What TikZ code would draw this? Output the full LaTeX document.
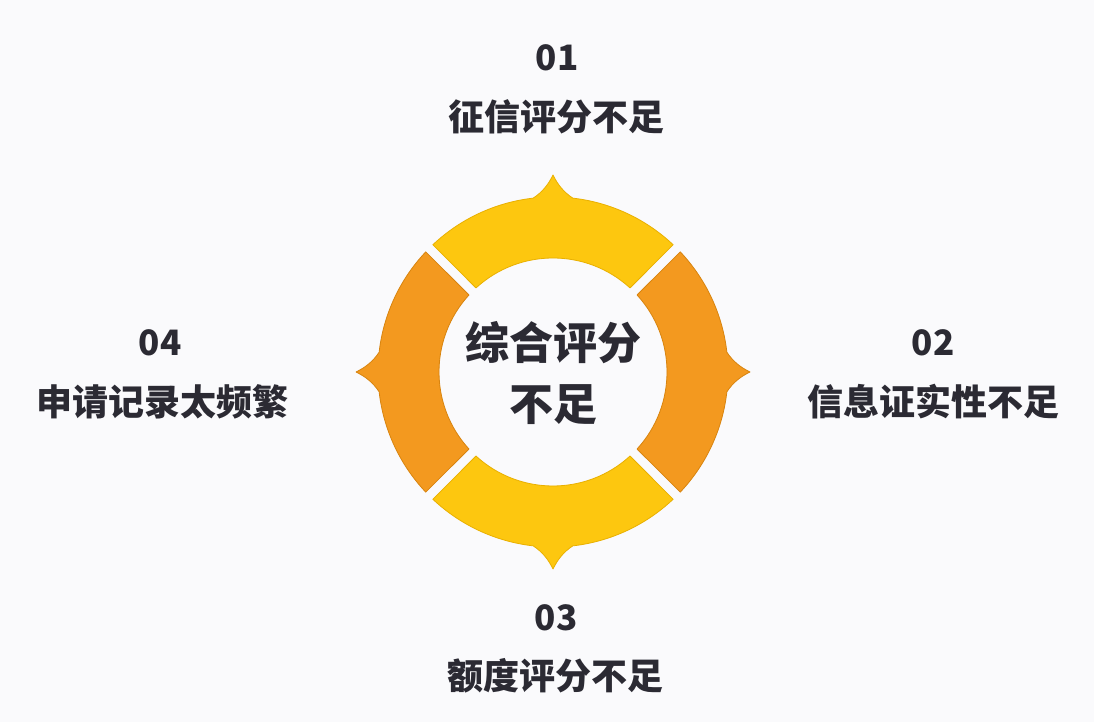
\documentclass[tikz,border=0pt]{standalone}
\usepackage{fontspec}
\newfontfamily\cjk{Noto Sans CJK SC}
\definecolor{bgcol}{HTML}{FAFAFC}
\definecolor{ycol}{HTML}{FDC70F}
\definecolor{yline}{HTML}{E9B000}
\definecolor{ocol}{HTML}{F3991F}
\definecolor{oline}{HTML}{D8840F}
\definecolor{txt}{HTML}{2B2A33}
\newcommand{\ringseg}[2]{% #1 = middle angle, #2 = style
  \pgfmathsetmacro{\sa}{#1-45+2.5}\pgfmathsetmacro{\sb}{#1-45+1.65}
  \pgfmathsetmacro{\sc}{#1+45-1.65}\pgfmathsetmacro{\sd}{#1+45-2.5}
  \pgfmathsetmacro{\se}{#1-6.5}\pgfmathsetmacro{\sf}{#1+6.5}
  \path[#2] (\sa:114) -- (\sb:175)
    arc[start angle=\sb, end angle=\se, radius=175]
    .. controls (#1-3.5:180) and (#1-1.5:187) .. (#1:197)
    .. controls (#1+1.5:187) and (#1+3.5:180) .. (\sf:175)
    arc[start angle=\sf, end angle=\sc, radius=175]
    -- (\sd:114)
    arc[start angle=\sd, end angle=\sa, radius=114] -- cycle;
}
\begin{document}
\begin{tikzpicture}[x=1pt,y=1pt,
  yseg/.style={fill=ycol,draw=yline,line width=0.8pt,line join=round},
  oseg/.style={fill=ocol,draw=oline,line width=0.8pt,line join=round},
  num/.style={text=txt,font=\cjk\bfseries\fontsize{35}{40}\selectfont,inner sep=0pt},
  lbl/.style={text=txt,font=\cjk\bfseries\fontsize{36}{42}\selectfont,inner sep=0pt},
  ctr/.style={text=txt,font=\cjk\bfseries\fontsize{44}{50}\selectfont,inner sep=0pt}]
\fill[bgcol] (0,0) rectangle (1094,722);
\useasboundingbox (0,0) rectangle (1094,722);
\begin{scope}[shift={(553,350)}]
  \ringseg{90}{yseg}
  \ringseg{270}{yseg}
  \ringseg{0}{oseg}
  \ringseg{180}{oseg}
\end{scope}
\node[ctr] (c1) at (553,379) {综合评分};
\node[ctr] (c2) at (553,317) {不足};
\node[num] (n1) at (557,664) {01};
\node[lbl] (l1) at (556,605) {征信评分不足};
\node[num] (n2) at (933,379) {02};
\node[lbl] (l2) at (933,320) {信息证实性不足};
\node[num] (n3) at (556,104) {03};
\node[lbl] (l3) at (555,46) {额度评分不足};
\node[num] (n4) at (160,379) {04};
\node[lbl] (l4) at (162,320) {申请记录太频繁};
\end{tikzpicture}
\end{document}
